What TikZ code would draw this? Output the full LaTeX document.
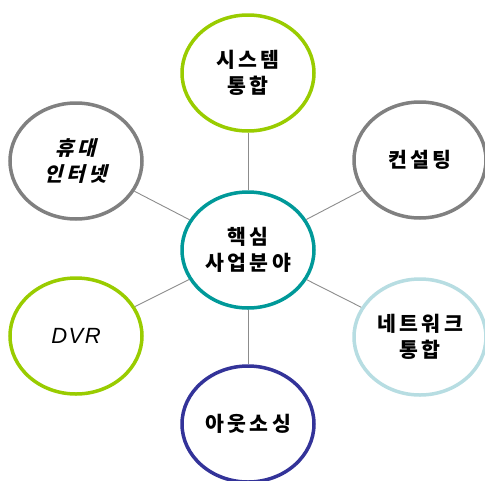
\documentclass[tikz,border=0pt]{standalone}
\usepackage{fontspec}
\usetikzlibrary{shapes.geometric}
\newfontfamily\kr{Noto Sans CJK KR}
\newfontfamily\krit[FakeSlant=0.25]{Noto Sans CJK KR}
\newfontfamily\latit{Liberation Sans Italic}
\newcommand\kgap{\hspace{3.5pt}}
\definecolor{lime}{HTML}{99CC00}
\definecolor{grayring}{HTML}{808080}
\definecolor{tealring}{HTML}{009999}
\definecolor{lblue}{HTML}{B7DDE2}
\definecolor{dblue}{HTML}{333399}
\definecolor{conn}{HTML}{8C8C8C}
\tikzset{
  bubble/.style={ellipse, draw, line width=3.5pt, fill=white, minimum width=132pt,
    minimum height=116pt, inner sep=0pt, align=center,
    font=\kr\bfseries\fontsize{20.5}{25.5}\selectfont},
  link/.style={draw=conn, line width=0.9pt}
}
\begin{document}
\begin{tikzpicture}[x=1pt,y=-1pt]
\useasboundingbox (0,0) rectangle (485,480);
\clip (0,0) rectangle (485,480);
\node[bubble, draw=tealring] (c) at (248,250) {핵\kgap 심\\사\kgap 업\kgap 분\kgap 야};
\node[bubble, draw=lime] (t) at (248,73) {시\kgap 스\kgap 템\\통\kgap 합};
\node[bubble, draw=grayring, font=\krit\bfseries\fontsize{20}{25.5}\selectfont] (lt) at (76,161) {휴\kgap 대\\인\kgap 터\kgap 넷};
\node[bubble, draw=grayring] (rt) at (420,160) {컨\kgap 설\kgap 팅};
\node[bubble, draw=lime, font=\latit\fontsize{22}{25}\selectfont] (lb) at (76,336) {D\hspace{1.5pt}V\hspace{1.5pt}R};
\node[bubble, draw=lblue] (rb) at (420,337) {네\kgap 트\kgap 워\kgap 크\\통\kgap 합};
\node[bubble, draw=dblue] (b) at (248,424) {아\kgap 웃\kgap 소\kgap 싱};
\foreach \n in {t,lt,rt,lb,rb,b} \draw[link] (c) -- (\n);
\end{tikzpicture}
\end{document}
